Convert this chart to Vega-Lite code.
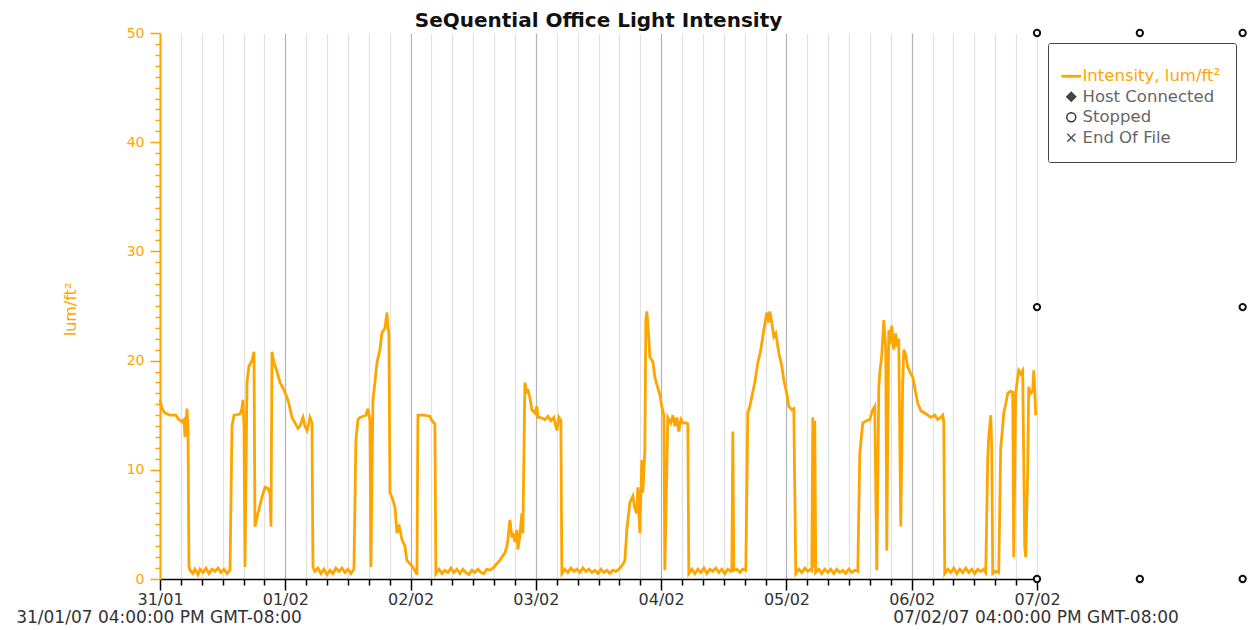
{
  "$schema": "https://vega.github.io/schema/vega-lite/v6.json",
  "width": 877,
  "height": 546,
  "autosize": "none",
  "padding": {"left": 160, "top": 33, "right": 220, "bottom": 51},
  "background": "white",
  "config": {"view": {"stroke": null}, "font": "DejaVu Sans"},
  "title": {"text": "SeQuential Office Light Intensity", "anchor": "middle", "fontSize": 20, "fontWeight": "bold", "color": "#111", "font": "DejaVu Sans", "offset": 5, "dy": 10},
  "layer": [
    {
      "data": {"values": [
        {"h":0.0,"v":16.4},{"h":0.38,"v":15.6},{"h":0.96,"v":15.2},{"h":1.92,"v":15.0},{"h":3.06,"v":15.0},{"h":3.45,"v":14.7},{"h":4.21,"v":14.4},{"h":4.6,"v":14.6},{"h":4.79,"v":13.0},{"h":4.98,"v":14.2},{"h":5.17,"v":15.6},{"h":5.36,"v":14.0},{"h":5.55,"v":1.1},
        {"h":5.75,"v":0.8},{"h":6.32,"v":0.5},{"h":6.7,"v":0.9},{"h":7.28,"v":0.4},{"h":7.66,"v":0.9},{"h":8.23,"v":0.6},{"h":8.81,"v":1.0},{"h":9.38,"v":0.5},{"h":9.96,"v":0.9},{"h":10.53,"v":0.7},{"h":11.11,"v":1.0},{"h":11.68,"v":0.6},{"h":12.26,"v":0.9},{"h":12.83,"v":0.5},{"h":13.41,"v":0.8},
        {"h":13.79,"v":14.0},{"h":14.17,"v":15.0},{"h":15.32,"v":15.1},{"h":15.7,"v":15.6},{"h":15.89,"v":16.4},{"h":16.09,"v":14.0},{"h":16.28,"v":1.1},{"h":16.66,"v":18.0},{"h":17.04,"v":19.5},{"h":17.62,"v":20.0},{"h":18.0,"v":20.8},{"h":18.19,"v":4.8},{"h":18.77,"v":6.0},{"h":19.53,"v":7.5},{"h":20.11,"v":8.4},{"h":20.68,"v":8.3},{"h":21.07,"v":7.8},{"h":21.26,"v":4.8},{"h":21.45,"v":20.8},{"h":21.83,"v":19.8},{"h":22.41,"v":19.0},{"h":22.98,"v":18.0},{"h":23.75,"v":17.3},{"h":24.51,"v":16.4},{"h":25.28,"v":14.8},{"h":25.85,"v":14.3},{"h":26.43,"v":13.8},{"h":26.81,"v":14.0},{"h":27.38,"v":14.8},{"h":27.77,"v":14.0},{"h":28.15,"v":13.6},{"h":28.53,"v":14.3},{"h":28.73,"v":14.8},{"h":29.11,"v":14.3},{"h":29.3,"v":1.1},
        {"h":29.68,"v":0.7},{"h":30.26,"v":1.0},{"h":30.83,"v":0.5},{"h":31.41,"v":0.9},{"h":31.98,"v":0.4},{"h":32.56,"v":0.8},{"h":33.13,"v":0.5},{"h":33.7,"v":1.0},{"h":34.28,"v":0.7},{"h":34.85,"v":1.0},{"h":35.43,"v":0.6},{"h":36.0,"v":0.9},{"h":36.58,"v":0.5},{"h":37.15,"v":0.9},
        {"h":37.53,"v":12.7},{"h":37.92,"v":14.6},{"h":38.3,"v":14.8},{"h":39.45,"v":15.0},{"h":39.83,"v":15.6},{"h":40.22,"v":14.5},{"h":40.41,"v":1.1},{"h":40.79,"v":16.4},{"h":41.17,"v":18.0},{"h":41.56,"v":19.8},{"h":42.13,"v":21.0},{"h":42.51,"v":22.5},{"h":43.09,"v":23.0},{"h":43.47,"v":24.4},{"h":43.66,"v":23.0},{"h":43.85,"v":22.5},{"h":44.05,"v":7.9},{"h":44.43,"v":7.5},{"h":45.0,"v":6.6},{"h":45.39,"v":4.2},{"h":45.77,"v":5.0},{"h":46.34,"v":3.6},{"h":46.92,"v":3.0},{"h":47.3,"v":1.7},{"h":47.88,"v":1.4},{"h":48.45,"v":1.1},{"h":49.02,"v":0.6},{"h":49.22,"v":0.4},
        {"h":49.41,"v":15.0},{"h":50.56,"v":15.0},{"h":51.71,"v":14.9},{"h":52.09,"v":14.5},{"h":52.66,"v":14.2},{"h":52.85,"v":0.5},
        {"h":53.43,"v":0.9},{"h":54.0,"v":0.5},{"h":54.58,"v":0.8},{"h":55.15,"v":0.6},{"h":55.73,"v":1.0},{"h":56.3,"v":0.6},{"h":56.88,"v":0.9},{"h":57.45,"v":0.5},{"h":58.02,"v":0.9},{"h":58.6,"v":0.6},{"h":59.17,"v":0.4},{"h":59.75,"v":0.8},{"h":60.32,"v":0.6},{"h":60.9,"v":0.9},{"h":61.47,"v":0.6},{"h":62.05,"v":0.5},{"h":62.62,"v":0.9},{"h":63.2,"v":0.8},{"h":63.77,"v":1.0},
        {"h":64.34,"v":1.3},{"h":64.92,"v":1.6},{"h":65.49,"v":2.0},{"h":66.07,"v":2.4},{"h":66.45,"v":3.0},{"h":66.64,"v":3.6},{"h":67.03,"v":5.4},{"h":67.41,"v":3.8},{"h":67.6,"v":4.2},{"h":67.98,"v":3.4},{"h":68.37,"v":4.5},{"h":68.56,"v":2.7},{"h":68.94,"v":4.0},{"h":69.32,"v":6.0},{"h":69.51,"v":4.2},
        {"h":69.9,"v":18.0},{"h":70.28,"v":17.0},{"h":70.47,"v":17.4},{"h":70.86,"v":16.6},{"h":71.24,"v":15.5},{"h":71.81,"v":15.2},{"h":72.2,"v":15.8},{"h":72.39,"v":14.8},{"h":72.77,"v":14.8},{"h":73.73,"v":14.6},{"h":74.3,"v":14.9},{"h":74.88,"v":14.5},{"h":75.45,"v":14.8},{"h":76.03,"v":13.6},{"h":76.41,"v":14.8},{"h":76.79,"v":14.5},{"h":76.98,"v":0.5},
        {"h":77.56,"v":0.9},{"h":78.13,"v":0.6},{"h":78.71,"v":1.0},{"h":79.28,"v":0.7},{"h":79.86,"v":0.9},{"h":80.43,"v":0.6},{"h":81.0,"v":1.0},{"h":81.58,"v":0.7},{"h":82.15,"v":0.9},{"h":82.73,"v":0.6},{"h":83.3,"v":0.8},{"h":83.88,"v":0.5},{"h":84.45,"v":0.9},{"h":85.03,"v":0.6},{"h":85.6,"v":0.8},{"h":86.18,"v":0.5},{"h":86.75,"v":0.8},{"h":87.32,"v":0.7},{"h":87.9,"v":0.9},
        {"h":88.47,"v":1.2},{"h":89.05,"v":1.7},{"h":89.43,"v":4.5},{"h":90.01,"v":7.0},{"h":90.58,"v":7.6},{"h":90.96,"v":6.5},{"h":91.35,"v":6.0},{"h":91.54,"v":8.4},{"h":91.92,"v":4.2},{"h":92.3,"v":10.9},{"h":92.49,"v":7.9},{"h":92.88,"v":11.8},{"h":93.07,"v":23.7},{"h":93.26,"v":24.5},{"h":93.64,"v":22.0},{"h":93.84,"v":20.3},{"h":94.41,"v":19.9},{"h":94.79,"v":18.5},{"h":95.18,"v":17.8},{"h":95.75,"v":16.9},{"h":96.13,"v":15.8},{"h":96.52,"v":15.0},{"h":96.71,"v":0.8},
        {"h":97.28,"v":14.8},{"h":97.86,"v":14.3},{"h":98.24,"v":15.0},{"h":98.62,"v":14.0},{"h":99.01,"v":14.8},{"h":99.39,"v":13.5},{"h":99.77,"v":14.6},{"h":100.15,"v":14.3},{"h":100.73,"v":14.3},{"h":101.11,"v":14.2},{"h":101.3,"v":0.5},
        {"h":101.88,"v":0.9},{"h":102.45,"v":0.5},{"h":103.03,"v":0.9},{"h":103.6,"v":0.6},{"h":104.18,"v":1.0},{"h":104.75,"v":0.5},{"h":105.33,"v":0.9},{"h":105.9,"v":0.7},{"h":106.47,"v":1.0},{"h":107.05,"v":0.6},{"h":107.62,"v":0.9},{"h":108.2,"v":0.5},{"h":108.77,"v":0.9},{"h":109.35,"v":0.7},{"h":109.54,"v":0.8},{"h":109.73,"v":13.5},{"h":109.92,"v":0.8},{"h":110.5,"v":0.9},{"h":111.07,"v":0.6},{"h":111.64,"v":0.9},{"h":112.22,"v":0.8},
        {"h":112.6,"v":15.2},{"h":112.99,"v":15.8},{"h":113.37,"v":16.7},{"h":113.94,"v":18.0},{"h":114.52,"v":19.8},{"h":115.09,"v":21.0},{"h":115.67,"v":22.8},{"h":116.24,"v":24.4},{"h":116.62,"v":23.5},{"h":116.82,"v":24.5},{"h":117.2,"v":23.5},{"h":117.58,"v":22.2},{"h":117.96,"v":22.5},{"h":118.54,"v":20.7},{"h":119.11,"v":19.5},{"h":119.5,"v":18.2},{"h":120.07,"v":17.0},{"h":120.45,"v":15.8},{"h":121.03,"v":15.5},{"h":121.41,"v":15.6},{"h":121.79,"v":0.5},
        {"h":122.37,"v":0.9},{"h":122.94,"v":0.6},{"h":123.52,"v":1.0},{"h":124.09,"v":0.7},{"h":124.67,"v":0.9},{"h":124.86,"v":0.8},{"h":125.05,"v":14.8},{"h":125.24,"v":1.0},{"h":125.43,"v":14.5},{"h":125.62,"v":0.6},{"h":126.2,"v":0.9},{"h":126.77,"v":0.5},{"h":127.35,"v":0.9},{"h":127.92,"v":0.6},{"h":128.5,"v":0.9},{"h":129.07,"v":0.5},{"h":129.65,"v":0.9},{"h":130.22,"v":0.6},{"h":130.79,"v":0.8},{"h":131.37,"v":0.5},{"h":131.94,"v":0.9},{"h":132.52,"v":0.6},{"h":133.09,"v":0.8},{"h":133.67,"v":0.7},
        {"h":134.05,"v":11.5},{"h":134.62,"v":14.3},{"h":135.39,"v":14.5},{"h":135.97,"v":14.6},{"h":136.54,"v":15.5},{"h":136.92,"v":15.8},{"h":137.31,"v":0.8},{"h":137.69,"v":17.5},{"h":137.88,"v":18.9},{"h":138.26,"v":20.5},{"h":138.65,"v":23.7},{"h":139.03,"v":21.0},{"h":139.22,"v":2.6},{"h":139.6,"v":22.8},{"h":139.8,"v":21.5},{"h":140.18,"v":23.2},{"h":140.56,"v":21.0},{"h":140.94,"v":22.5},{"h":141.14,"v":21.6},{"h":141.52,"v":22.0},{"h":141.9,"v":4.8},{"h":142.28,"v":18.0},{"h":142.48,"v":21.0},{"h":142.86,"v":20.5},{"h":143.24,"v":19.4},{"h":143.82,"v":18.8},{"h":144.2,"v":18.5},{"h":144.58,"v":17.5},{"h":145.16,"v":16.1},{"h":145.73,"v":15.4},{"h":146.5,"v":15.2},{"h":147.07,"v":15.0},{"h":147.65,"v":14.8},{"h":148.41,"v":15.0},{"h":148.99,"v":14.6},{"h":149.56,"v":14.8},{"h":149.94,"v":15.0},{"h":150.14,"v":14.4},{"h":150.33,"v":0.5},
        {"h":150.9,"v":0.9},{"h":151.48,"v":0.6},{"h":152.05,"v":1.0},{"h":152.63,"v":0.5},{"h":153.2,"v":0.9},{"h":153.77,"v":0.6},{"h":154.35,"v":1.0},{"h":154.92,"v":0.6},{"h":155.5,"v":0.9},{"h":156.07,"v":0.5},{"h":156.65,"v":0.9},{"h":157.22,"v":0.7},{"h":157.8,"v":0.9},{"h":158.18,"v":0.6},
        {"h":158.56,"v":11.0},{"h":158.75,"v":13.0},{"h":159.14,"v":15.0},{"h":159.33,"v":12.0},{"h":159.52,"v":0.5},{"h":160.09,"v":0.7},{"h":160.67,"v":0.6},{"h":161.05,"v":12.0},{"h":161.43,"v":14.0},{"h":161.63,"v":15.2},{"h":162.01,"v":16.0},{"h":162.39,"v":17.0},{"h":162.97,"v":17.2},{"h":163.35,"v":17.1},{"h":163.54,"v":2.0},{"h":163.92,"v":17.1},{"h":164.31,"v":18.5},{"h":164.5,"v":19.1},{"h":164.88,"v":18.8},{"h":165.26,"v":19.1},{"h":165.65,"v":2.9},{"h":165.84,"v":2.0},{"h":166.22,"v":10.0},{"h":166.41,"v":17.6},{"h":166.8,"v":17.0},{"h":167.18,"v":17.2},{"h":167.37,"v":19.1},{"h":167.56,"v":17.5},{"h":167.75,"v":15.0}
      ]},
      "mark": {"type": "line", "color": "#FFA500", "strokeWidth": 2.8, "interpolate": "linear"},
      "encoding": {
        "x": {"field": "h", "type": "quantitative",
          "scale": {"domain": [0, 168], "nice": false, "zero": false},
          "axis": {
            "title": null,
            "tickCount": 200,
            "values": [0,4,8,12,16,20,24,28,32,36,40,44,48,52,56,60,64,68,72,76,80,84,88,92,96,100,104,108,112,116,120,124,128,132,136,140,144,148,152,156,160,164,168],
            "labelExpr": "datum.value % 24 == 0 ? ['31/01','01/02','02/02','03/02','04/02','05/02','06/02','07/02'][datum.value / 24] : ''",
            "labelOverlap": false,
            "labelFontSize": 16,
            "labelColor": "#333",
            "labelFont": "DejaVu Sans",
            "labelPadding": 1,
            "labelFlush": false,
            "grid": true,
            "gridColor": {"condition": {"test": "datum.value % 24 == 0 && datum.value < 168", "value": "#b4b4b4"}, "value": "#e2e2e2"},
            "gridWidth": 1.2,
            "tickColor": "#000",
            "tickWidth": 1.5,
            "tickSize": {"condition": {"test": "datum.value % 24 == 0", "value": 11}, "value": 6},
            "domainColor": "#000",
            "domainWidth": 1.5
          }
        },
        "y": {"field": "v", "type": "quantitative",
          "scale": {"domain": [0, 50], "nice": false},
          "axis": {
            "title": "lum/ft²",
            "titleColor": "#FFA500",
            "titleFontSize": 16,
            "titleFontWeight": "normal",
            "titleFont": "DejaVu Sans",
            "titleX": -82,
            "titleY": 276,
            "titleAngle": -90,
            "titleAlign": "center",
            "titleBaseline": "bottom",
            "tickCount": 200,
            "values": [0,1,2,3,4,5,6,7,8,9,10,11,12,13,14,15,16,17,18,19,20,21,22,23,24,25,26,27,28,29,30,31,32,33,34,35,36,37,38,39,40,41,42,43,44,45,46,47,48,49,50],
            "labelExpr": "datum.value % 10 == 0 ? format(datum.value, 'd') : ''",
            "labelOverlap": false,
            "labelFontSize": 14,
            "labelColor": "#FFA500",
            "labelFont": "DejaVu Sans",
            "labelPadding": 6,
            "grid": false,
            "tickColor": "#FFA500",
            "tickWidth": 1.5,
            "tickSize": {"condition": {"test": "datum.value % 10 == 0", "value": 10}, "value": 5},
            "domainColor": "#FFA500",
            "domainWidth": 2
          }
        }
      }
    },
    {
      "data": {"values": [
        {"h": 0, "v": -3.6, "label": "31/01/07 04:00:00 PM GMT-08:00"},
        {"h": 168, "v": -3.6, "label": "07/02/07 04:00:00 PM GMT-08:00"}
      ]},
      "mark": {"type": "text", "fontSize": 17, "font": "DejaVu Sans", "color": "#333", "align": "center", "baseline": "middle", "dx": -1},
      "encoding": {
        "x": {"field": "h", "type": "quantitative"},
        "y": {"field": "v", "type": "quantitative"},
        "text": {"field": "label"}
      }
    },
    {
      "data": {"values": [
        {"h": 168, "v": 50}, {"h": 187.7, "v": 50}, {"h": 207.4, "v": 50},
        {"h": 168, "v": 24.9}, {"h": 207.4, "v": 24.9},
        {"h": 168, "v": 0}, {"h": 187.7, "v": 0}, {"h": 207.4, "v": 0}
      ]},
      "mark": {"type": "point", "shape": "circle", "size": 40, "filled": false, "fill": "white", "fillOpacity": 1, "stroke": "#111", "strokeWidth": 2, "opacity": 1},
      "encoding": {
        "x": {"field": "h", "type": "quantitative"},
        "y": {"field": "v", "type": "quantitative"}
      }
    },
    {
      "data": {"values": [
        {"series": "Intensity, lum/ft²"},
        {"series": "Host Connected"},
        {"series": "Stopped"},
        {"series": "End Of File"}
      ]},
      "mark": {"type": "point", "opacity": 0, "filled": false, "strokeWidth": 1.5},
      "encoding": {
        "color": {"field": "series", "type": "nominal",
          "scale": {"domain": ["Intensity, lum/ft²", "Host Connected", "Stopped", "End Of File"],
                    "range": ["#FFA500", "#444444", "#333333", "#555555"]},
          "legend": {
            "orient": "none",
            "legendX": 888,
            "legendY": 10,
            "title": " ",
            "titleFontSize": 4,
            "titlePadding": 6,
            "padding": 15,
            "strokeColor": "#444",
            "fillColor": "white",
            "cornerRadius": 2,
            "labelFontSize": 16.5,
            "labelFont": "DejaVu Sans",
            "labelColor": {"expr": "datum.value == 'Intensity, lum/ft²' ? '#FFA500' : '#666666'"},
            "labelOffset": 3,
            "labelLimit": 300,
            "rowPadding": 3.5,
            "symbolSize": 80,
            "symbolOpacity": 1,
            "symbolStrokeWidth": 1.5
          }
        },
        "shape": {"field": "series", "type": "nominal",
          "scale": {"domain": ["Intensity, lum/ft²", "Host Connected", "Stopped", "End Of File"],
                    "range": ["M-2,-0.15L2,-0.15L2,0.15L-2,0.15Z", "M0,-1L1,0L0,1L-1,0ZM0,-0.6L0.6,0L0,0.6L-0.6,0ZM0,-0.25L0.25,0L0,0.25L-0.25,0Z", "circle", "M-0.9,-0.9L0.9,0.9M-0.9,0.9L0.9,-0.9"]},
          "legend": {
            "orient": "none",
            "legendX": 888,
            "legendY": 10,
            "title": " ",
            "titleFontSize": 4,
            "titlePadding": 6,
            "padding": 15,
            "strokeColor": "#444",
            "fillColor": "white",
            "cornerRadius": 2,
            "labelFontSize": 16.5,
            "labelFont": "DejaVu Sans",
            "labelColor": {"expr": "datum.value == 'Intensity, lum/ft²' ? '#FFA500' : '#666666'"},
            "labelOffset": 3,
            "labelLimit": 300,
            "rowPadding": 3.5,
            "symbolSize": 80,
            "symbolOpacity": 1,
            "symbolStrokeWidth": 1.5
          }
        }
      }
    }
  ]
}
